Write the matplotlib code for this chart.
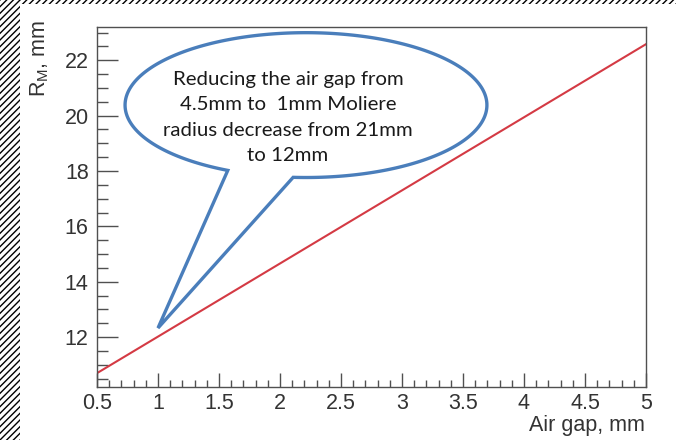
import numpy as np
import matplotlib.pyplot as plt
from matplotlib.patches import Rectangle, Polygon
from matplotlib.ticker import MultipleLocator, FuncFormatter

# Moliere radius vs air gap
air_gap = [0.5, 1.0, 1.5, 2.0, 2.5, 3.0, 3.5, 4.0, 4.5, 5.0]
r_moliere = [10.70, 12.02, 13.34, 14.66, 15.98, 17.30, 18.62, 19.94, 21.26, 22.58]

note_lines = ['Reducing the air gap from',
              '4.5mm to  1mm Moliere',
              'radius decrease from 21mm',
              'to 12mm']

plt.rcParams['font.family'] = ['Liberation Sans', 'DejaVu Sans']

fig = plt.figure(figsize=(6.76, 4.40), dpi=100)
fig.patch.set_facecolor('white')

# hatched strips along the left and top edges
for x0, y0, w, h in [(0, 0, 20 / 676, 1), (0, 1 - 4 / 440, 1, 4 / 440)]:
    fig.patches.append(Rectangle((x0, y0), w, h, transform=fig.transFigure,
                                 facecolor='white', edgecolor='black',
                                 hatch='/////', linewidth=0))

ax = fig.add_axes([97 / 676, 1 - 387 / 440, 549 / 676, 360 / 440])
ax.plot(air_gap, r_moliere, color='#d43a44', linewidth=1.5)
ax.set_xlim(0.5, 5.0)
ax.set_ylim(10.2, 23.2)

frame_col = '#505050'
for s in ax.spines.values():
    s.set_color(frame_col)
    s.set_linewidth(1.0)
ax.xaxis.set_major_locator(MultipleLocator(0.5))
ax.xaxis.set_minor_locator(MultipleLocator(0.1))
ax.yaxis.set_major_locator(MultipleLocator(2))
ax.yaxis.set_minor_locator(MultipleLocator(0.5))
ax.xaxis.set_major_formatter(FuncFormatter(lambda v, p: '%g' % v))
ax.tick_params(which='both', direction='in', color=frame_col, width=1.0,
               labelsize=15.5, labelcolor='#333333', top=False, right=False)
ax.tick_params(axis='x', which='major', length=10, pad=4)
ax.tick_params(axis='x', which='minor', length=5)
ax.tick_params(axis='y', which='major', length=15, pad=6)
ax.tick_params(axis='y', which='minor', length=8)

fig.text(645 / 676, 1 - 425 / 440, 'Air gap, mm', ha='right', va='center',
         fontsize=15.5, color='#333333')
fig.text(40 / 676, 1 - 20 / 440, r'R$_{\mathregular{M}}$, mm', ha='center',
         va='top', rotation=90, fontsize=15.5, color='#333333')

# speech bubble pointing at the 1 mm point
cx, cy, a, b = 2.213, 20.38, 1.483, 2.615
left_base = (1.566, 18.0)
right_base = (2.107, 17.75)
tip = (1.0, 12.33)
t_start = np.arctan2((right_base[1] - cy) / b, (right_base[0] - cx) / a)
t_end = np.arctan2((left_base[1] - cy) / b, (left_base[0] - cx) / a)
if t_end < t_start:
    t_end += 2 * np.pi
t = np.linspace(t_start, t_end, 300)
pts = np.column_stack([cx + a * np.cos(t), cy + b * np.sin(t)])
pts = np.vstack([pts, [tip]])
ax.add_patch(Polygon(pts, closed=True, facecolor='white', edgecolor='#4a7ebb',
                     linewidth=2.4, joinstyle='miter', zorder=5, clip_on=False))
ax.text(2.066, 19.93, '\n'.join(note_lines), ha='center', va='center',
        fontsize=14.7, family=['Lato', 'DejaVu Sans'], color='#1a1a1a',
        linespacing=1.6, zorder=6)

fig.savefig('out.png', dpi=100)
